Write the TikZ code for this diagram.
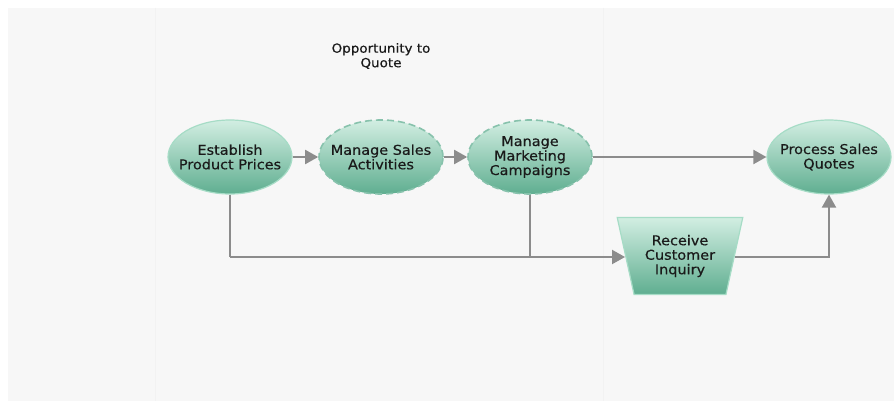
\documentclass[tikz,border=0pt]{standalone}
\usepackage{fontspec}
\setmainfont{DejaVu Sans}
\newfontfamily\labelfont[FakeStretch=1.07,FakeBold=0.4]{DejaVu Sans}
\usetikzlibrary{shapes.geometric,arrows.meta}
\definecolor{bggray}{HTML}{F7F7F7}
\definecolor{bandgray}{HTML}{F2F2F2}
\definecolor{toplight}{HTML}{D2EEE2}
\definecolor{botdark}{HTML}{5FAE90}
\definecolor{rimc}{HTML}{A6DCC6}
\definecolor{linec}{HTML}{8C8C8C}
\definecolor{textc}{HTML}{1A1A1A}
\tikzset{
  proc/.style={ellipse, minimum width=124pt, minimum height=74pt, inner xsep=-14pt, inner ysep=0pt,
    top color=toplight, bottom color=botdark, draw=rimc, line width=1.2pt, text=textc,
    align=center, font=\labelfont\fontsize{13.5}{14.5}\selectfont},
  dproc/.style={proc, dashed, dash pattern=on 7pt off 4pt, line width=1.6pt, draw=botdark!75!white},
  trap/.style={trapezium, shape border rotate=180, trapezium left angle=73, trapezium right angle=73,
    minimum width=126pt, minimum height=77pt, inner sep=0pt, trapezium stretches=true,
    top color=toplight, bottom color=botdark, draw=rimc, line width=1.2pt, text=textc,
    align=center, font=\labelfont\fontsize{13.5}{14.5}\selectfont},
  conn/.style={draw=linec, line width=2pt, -{Triangle[length=13pt,width=14pt]}},
  plain/.style={draw=linec, line width=2pt},
  titletext/.style={align=center, text=textc, font=\labelfont\fontsize{12.6}{14.5}\selectfont}
}
\begin{document}
\begin{tikzpicture}[x=1pt,y=-1pt]
\useasboundingbox (0,0) rectangle (894,401);
\fill[white] (0,0) rectangle (894,401);
\fill[bggray] (8,8) rectangle (894,401);
\draw[bandgray, line width=1pt] (155,8) -- (155,401);
\draw[bandgray, line width=1pt] (603,8) -- (603,401);

\node[titletext] (title) at (381,56) {Opportunity to\\Quote};

\node[proc] (epp) at (230,157) {Establish\\Product Prices};
\node[dproc] (msa) at (381,157) {Manage Sales\\Activities};
\node[dproc] (mmc) at (530,157) {Manage\\Marketing\\Campaigns};
\node[proc] (psq) at (829,157) {Process Sales\\Quotes};
\node[trap] (rci) at (680,256) {Receive\\Customer\\Inquiry};

\coordinate (j1) at (230,257);
\coordinate (j2) at (530,257);
\coordinate (j3) at (829,257);

\draw[conn] (epp) -- (msa);
\draw[conn] (msa) -- (mmc);
\draw[conn] (mmc) -- (psq);
\draw[plain] (epp.south) -- (j1);
\draw[plain] (mmc.south) -- (j2);
\draw[conn] (j1) -- (rci.west |- j1);
\draw[conn] (rci.east |- j3) -- (j3) -- (psq.south);
\end{tikzpicture}
\end{document}
